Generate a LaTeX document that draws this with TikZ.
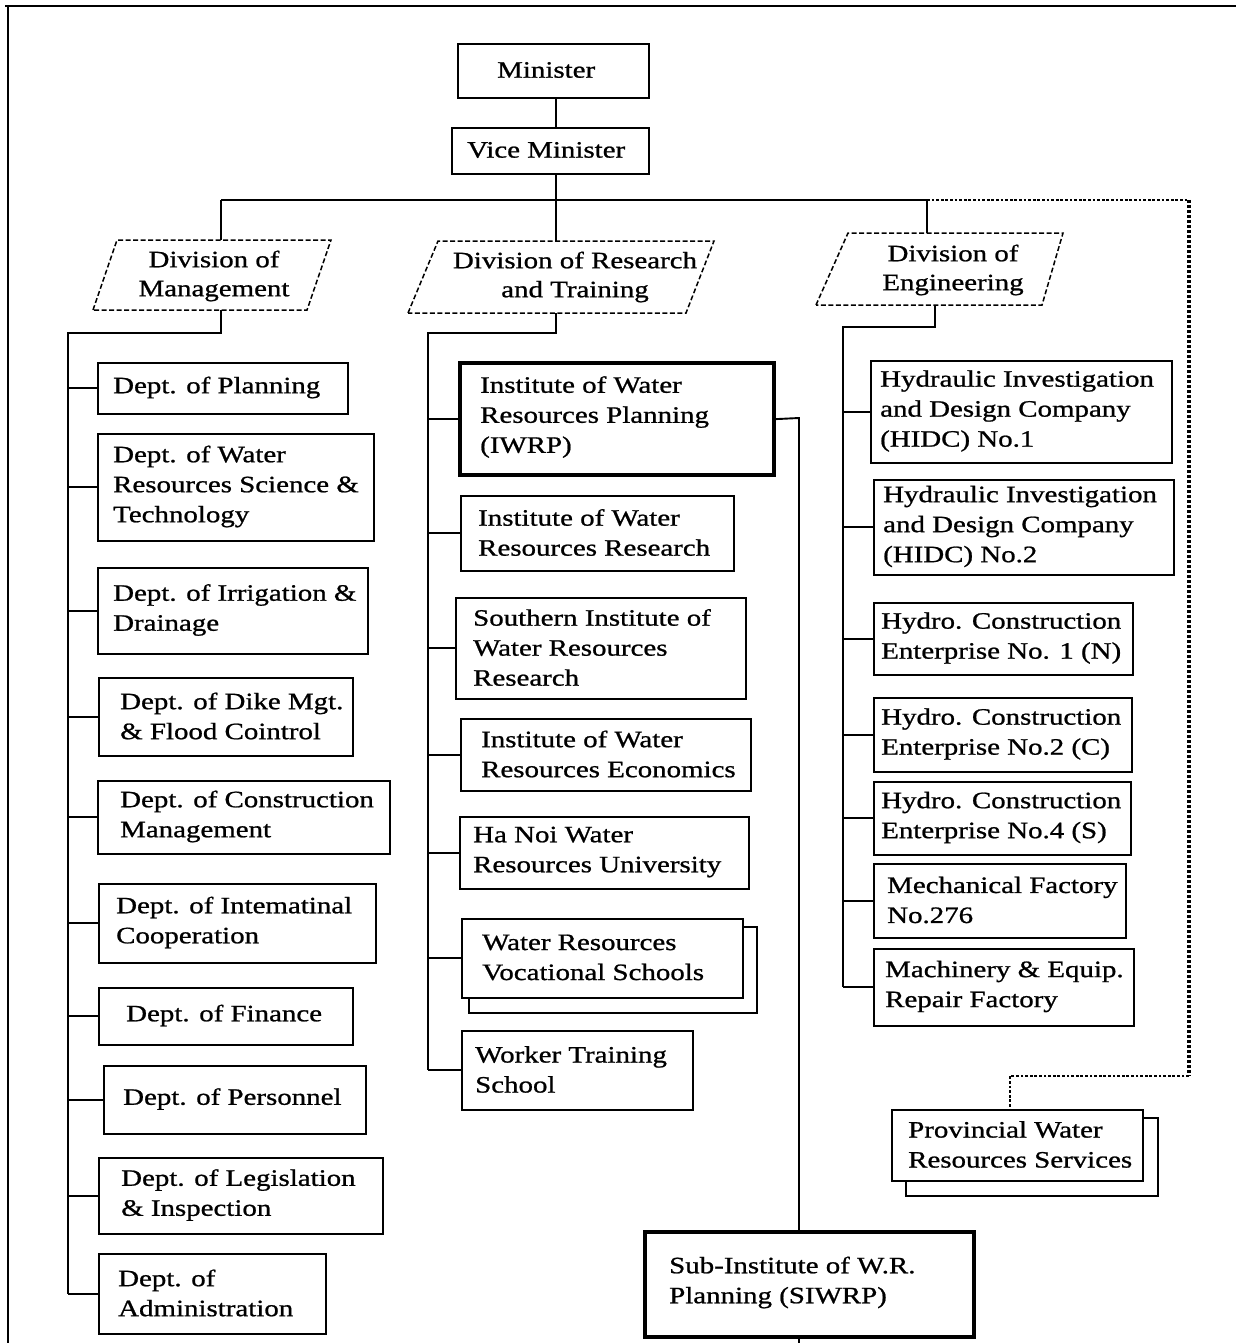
\documentclass[tikz,border=0pt]{standalone}
\usepackage{fontspec}
\setmainfont{Liberation Serif}[FakeStretch=1.23,FakeBold=0.9]
\newcommand\orgbox[8]{%
  \node[#1, minimum width={(#5-#3)*1pt}, minimum height={(#6-#4)*1pt}] (#2) at (#3,#4) {};
  \node[otext] (#2t) at (#7,{(#4+#6)/2}) {#8};
}
\begin{document}
\begin{tikzpicture}[x=1pt,y=-1pt,
  obox/.style={draw, line width=1.7pt, fill=white, inner sep=0pt, anchor=north west},
  thickbox/.style={obox, line width=4.2pt},
  otext/.style={font=\fontsize{23.5}{30}\selectfont, align=left, inner sep=0pt, anchor=west},
  divtext/.style={font=\fontsize{23.5}{29}\selectfont, align=center, inner sep=0pt},
  conn/.style={line width=1.9pt},
  dotconn/.style={line width=3.6pt, dash pattern=on 3.2pt off 1.8pt},
  dotthin/.style={line width=2.4pt, dash pattern=on 2.8pt off 1.8pt},
  divline/.style={line width=1.5pt, dash pattern=on 5pt off 2.5pt},
  frame/.style={line width=2pt}]
\useasboundingbox (0,0) rectangle (1236,1343);
% outer frame
\draw[frame] (5,6) -- (1236,6);
\draw[frame] (8,6) -- (8,1343);

% top
\orgbox{obox}{minister}{457}{43}{648}{97}{497}{Minister}
\orgbox{obox}{vice}{451}{127}{648}{173}{467}{Vice Minister}

% divisions
\coordinate (mA) at (93,310); \coordinate (mB) at (117,240); \coordinate (mC) at (331,240); \coordinate (mD) at (307,310);
\draw[divline] (mA) -- (mB) -- (mC) -- (mD) -- cycle;
\node[divtext] (divM) at (214,276) {Division of\\Management};
\coordinate (rA) at (408,313); \coordinate (rB) at (438,241); \coordinate (rC) at (714,241); \coordinate (rD) at (686,313);
\draw[divline] (rA) -- (rB) -- (rC) -- (rD) -- cycle;
\node[divtext] (divR) at (575,277) {Division of Research\\and Training};
\coordinate (eA) at (816,305); \coordinate (eB) at (848,233); \coordinate (eC) at (1063,233); \coordinate (eD) at (1042,305);
\draw[divline] (eA) -- (eB) -- (eC) -- (eD) -- cycle;
\node[divtext] (divE) at (953,270) {Division of\\Engineering};

% management column
\orgbox{obox}{planning}{97}{362}{347}{413}{113}{Dept. of Planning}
\orgbox{obox}{wrst}{97}{433}{373}{540}{113}{Dept. of Water\\Resources Science \&\\Technology}
\orgbox{obox}{irrig}{97}{567}{367}{653}{113}{Dept. of Irrigation \&\\Drainage}
\orgbox{obox}{dike}{98}{677}{352}{755}{120}{Dept. of Dike Mgt.\\\& Flood Cointrol}
\orgbox{obox}{constr}{97}{780}{389}{853}{120}{Dept. of Construction\\Management}
\orgbox{obox}{intl}{98}{883}{375}{962}{116}{Dept. of Intematinal\\Cooperation}
\orgbox{obox}{finance}{98}{987}{352}{1044}{126}{Dept. of Finance}
\orgbox{obox}{personnel}{103}{1065}{365}{1133}{123}{Dept. of Personnel}
\orgbox{obox}{legis}{98}{1157}{382}{1233}{121}{Dept. of Legislation\\\& Inspection}
\orgbox{obox}{admin}{98}{1253}{325}{1333}{118}{Dept. of\\Administration}

% research column
\orgbox{thickbox}{iwrp}{458}{361}{772}{473}{480}{Institute of Water\\Resources Planning\\(IWRP)}
\orgbox{obox}{iwrr}{460}{495}{733}{570}{478}{Institute of Water\\Resources Research}
\orgbox{obox}{siwrr}{455}{597}{745}{698}{473}{Southern Institute of\\Water Resources\\Research}
\orgbox{obox}{iwre}{460}{718}{750}{790}{481}{Institute of Water\\Resources Economics}
\orgbox{obox}{hanoi}{459}{816}{748}{888}{473}{Ha Noi Water\\Resources University}
\node[obox, minimum width=288pt, minimum height=86pt] (vocb) at (468,926) {};
\orgbox{obox}{voc}{461}{918}{742}{997}{482}{Water Resources\\Vocational Schools}
\orgbox{obox}{worker}{461}{1030}{692}{1109}{475}{Worker Training\\School}
\orgbox{thickbox}{siwrp}{643}{1230}{972}{1335}{669}{Sub-Institute of W.R.\\Planning (SIWRP)}

% engineering column
\orgbox{obox}{hidc1}{870}{360}{1171}{462}{880}{Hydraulic Investigation\\and Design Company\\(HIDC) No.1}
\orgbox{obox}{hidc2}{873}{479}{1173}{574}{883}{Hydraulic Investigation\\and Design Company\\(HIDC) No.2}
\orgbox{obox}{hce1}{873}{602}{1132}{674}{881}{Hydro. Construction\\Enterprise No. 1 (N)}
\orgbox{obox}{hce2}{873}{697}{1131}{771}{881}{Hydro. Construction\\Enterprise No.2 (C)}
\orgbox{obox}{hce4}{873}{781}{1130}{854}{881}{Hydro. Construction\\Enterprise No.4 (S)}
\orgbox{obox}{mech}{873}{863}{1125}{937}{887}{Mechanical Factory\\No.276}
\orgbox{obox}{mach}{873}{948}{1133}{1025}{885}{Machinery \& Equip.\\Repair Factory}
\node[obox, minimum width=252pt, minimum height=78pt] (provb) at (905,1117) {};
\orgbox{obox}{prov}{891}{1109}{1142}{1180}{908}{Provincial Water\\Resources Services}

% connectors
\coordinate (spine) at (556,200);
\coordinate (barL) at (221,200);
\coordinate (barE) at (927,200);
\coordinate (barR) at (1189,200);
\draw[conn] (minister.south -| spine) -- (vice.north -| spine);
\draw[conn] (vice.south -| spine) -- (spine);
\draw[conn] (barL) -- (barE);
\draw[conn] (barL) -- (barL |- mB);
\draw[conn] (spine) -- (spine |- rB);
\draw[conn] (barE) -- (barE |- eB);
\coordinate (dcorner) at (1189,1076);
\coordinate (dturn) at (1010,1076);
\draw[dotthin] (barE) -- (barR);
\draw[dotconn] (barR) -- (dcorner);
\draw[dotthin] (dcorner) -- (dturn) -- (dturn |- prov.north);

\coordinate (mT) at (68,333);
\draw[conn] (221,310) |- (mT) -- (mT |- admin.west);
\foreach \n in {planning,wrst,irrig,dike,constr,intl,finance,personnel,legis,admin}
  \draw[conn] (mT |- \n.west) -- (\n.west);

\coordinate (rT) at (428,333);
\draw[conn] (556,313) |- (rT) -- (rT |- worker.west);
\foreach \n in {iwrp,iwrr,siwrr,iwre,hanoi,voc,worker}
  \draw[conn] (rT |- \n.west) -- (\n.west);

\coordinate (eT) at (843,327);
\draw[conn] (935,305) |- (eT) -- (eT |- mach.west);
\foreach \n in {hidc1,hidc2,hce1,hce2,hce4,mech,mach}
  \draw[conn] (eT |- \n.west) -- (\n.west);

\coordinate (iT) at (799,418);
\coordinate (iend) at (799,1343);
\draw[conn] (iwrp.east) -- (iT) -- (iT |- siwrp.north);
\draw[conn] (iT |- siwrp.south) -- (iend);
\end{tikzpicture}
\end{document}
